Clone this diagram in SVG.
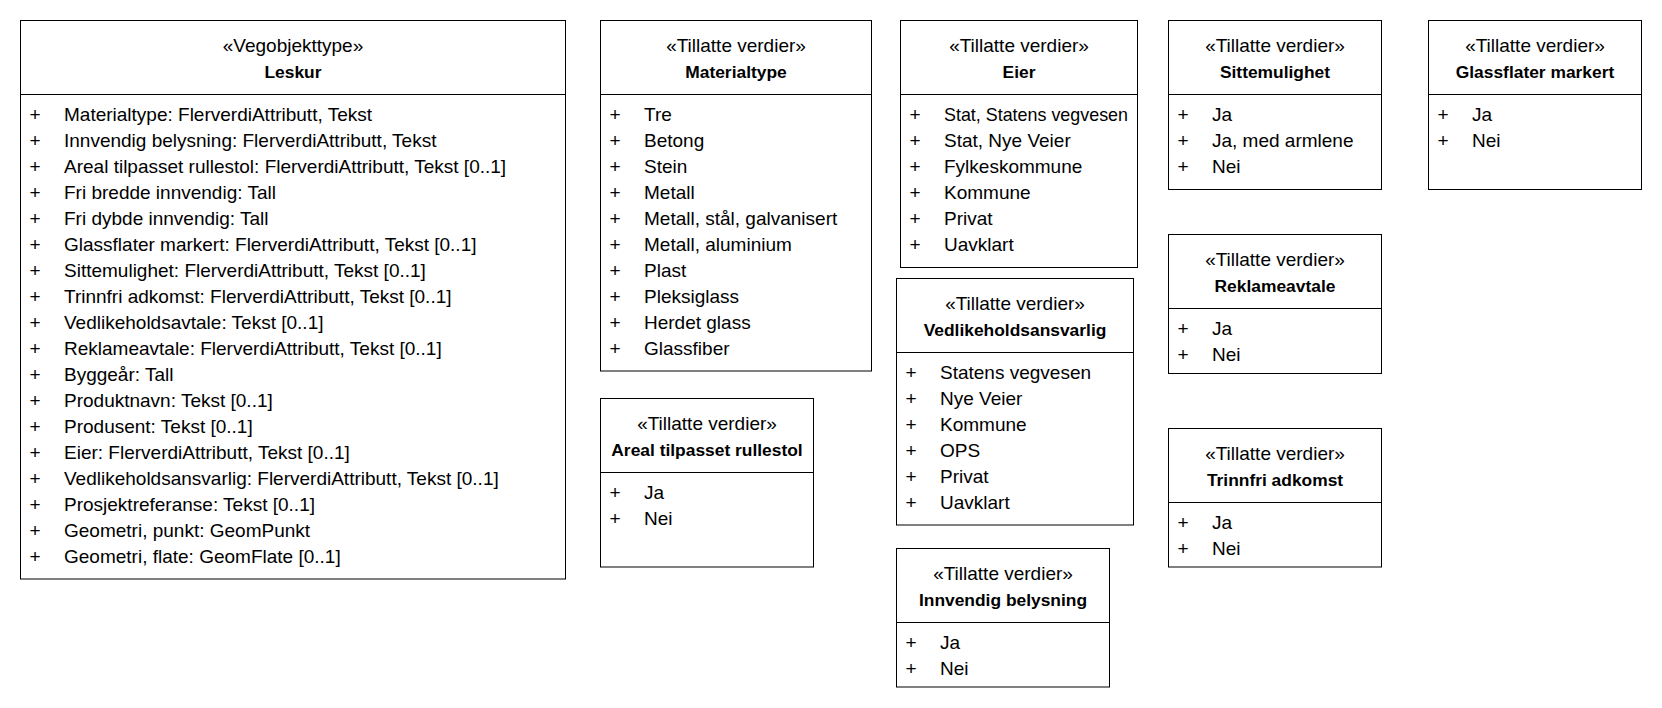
<svg xmlns="http://www.w3.org/2000/svg" width="1662" height="708" viewBox="0 0 1662 708">
<style>
.bg{fill:#fff}
.box{fill:#fff;stroke:#000;stroke-width:1}
.sep{stroke:#000;stroke-width:1}
text{font-family:"Liberation Sans",Arial,sans-serif;fill:#000}
.st{font-size:19px;text-anchor:middle}
.nm{font-size:17.4px;font-weight:bold;text-anchor:middle}
.r{font-size:19px}
</style>
<rect class="bg" x="0" y="0" width="1662" height="708"/>
<g id="connectors"/>

<g id="leskur">
<rect class="box" x="20.5" y="20.5" width="545" height="558.5"/>
<line class="sep" x1="20.5" y1="94.5" x2="565.5" y2="94.5"/>
<text class="st" x="293" y="52">«Vegobjekttype»</text>
<text class="nm" x="293" y="77.5">Leskur</text>
<text class="r"><tspan x="29.5" y="120.8">+</tspan><tspan x="29.5" y="146.8">+</tspan><tspan x="29.5" y="172.8">+</tspan><tspan x="29.5" y="198.8">+</tspan><tspan x="29.5" y="224.8">+</tspan><tspan x="29.5" y="250.8">+</tspan><tspan x="29.5" y="276.8">+</tspan><tspan x="29.5" y="302.8">+</tspan><tspan x="29.5" y="328.8">+</tspan><tspan x="29.5" y="354.8">+</tspan><tspan x="29.5" y="380.8">+</tspan><tspan x="29.5" y="406.8">+</tspan><tspan x="29.5" y="432.8">+</tspan><tspan x="29.5" y="458.8">+</tspan><tspan x="29.5" y="484.8">+</tspan><tspan x="29.5" y="510.8">+</tspan><tspan x="29.5" y="536.8">+</tspan><tspan x="29.5" y="562.8">+</tspan></text>
<text class="r"><tspan x="64" y="120.8">Materialtype: FlerverdiAttributt, Tekst</tspan><tspan x="64" y="146.8">Innvendig belysning: FlerverdiAttributt, Tekst</tspan><tspan x="64" y="172.8">Areal tilpasset rullestol: FlerverdiAttributt, Tekst [0..1]</tspan><tspan x="64" y="198.8">Fri bredde innvendig: Tall</tspan><tspan x="64" y="224.8">Fri dybde innvendig: Tall</tspan><tspan x="64" y="250.8">Glassflater markert: FlerverdiAttributt, Tekst [0..1]</tspan><tspan x="64" y="276.8">Sittemulighet: FlerverdiAttributt, Tekst [0..1]</tspan><tspan x="64" y="302.8">Trinnfri adkomst: FlerverdiAttributt, Tekst [0..1]</tspan><tspan x="64" y="328.8">Vedlikeholdsavtale: Tekst [0..1]</tspan><tspan x="64" y="354.8">Reklameavtale: FlerverdiAttributt, Tekst [0..1]</tspan><tspan x="64" y="380.8">Byggeår: Tall</tspan><tspan x="64" y="406.8">Produktnavn: Tekst [0..1]</tspan><tspan x="64" y="432.8">Produsent: Tekst [0..1]</tspan><tspan x="64" y="458.8">Eier: FlerverdiAttributt, Tekst [0..1]</tspan><tspan x="64" y="484.8">Vedlikeholdsansvarlig: FlerverdiAttributt, Tekst [0..1]</tspan><tspan x="64" y="510.8">Prosjektreferanse: Tekst [0..1]</tspan><tspan x="64" y="536.8">Geometri, punkt: GeomPunkt</tspan><tspan x="64" y="562.8">Geometri, flate: GeomFlate [0..1]</tspan></text>
</g>

<g id="materialtype">
<rect class="box" x="600.5" y="20.5" width="271" height="350.5"/>
<line class="sep" x1="600.5" y1="94.5" x2="871.5" y2="94.5"/>
<text class="st" x="736" y="52">«Tillatte verdier»</text>
<text class="nm" x="736" y="77.5">Materialtype</text>
<text class="r"><tspan x="609.5" y="120.8">+</tspan><tspan x="609.5" y="146.8">+</tspan><tspan x="609.5" y="172.8">+</tspan><tspan x="609.5" y="198.8">+</tspan><tspan x="609.5" y="224.8">+</tspan><tspan x="609.5" y="250.8">+</tspan><tspan x="609.5" y="276.8">+</tspan><tspan x="609.5" y="302.8">+</tspan><tspan x="609.5" y="328.8">+</tspan><tspan x="609.5" y="354.8">+</tspan></text>
<text class="r"><tspan x="644" y="120.8">Tre</tspan><tspan x="644" y="146.8">Betong</tspan><tspan x="644" y="172.8">Stein</tspan><tspan x="644" y="198.8">Metall</tspan><tspan x="644" y="224.8">Metall, stål, galvanisert</tspan><tspan x="644" y="250.8">Metall, aluminium</tspan><tspan x="644" y="276.8">Plast</tspan><tspan x="644" y="302.8">Pleksiglass</tspan><tspan x="644" y="328.8">Herdet glass</tspan><tspan x="644" y="354.8">Glassfiber</tspan></text>
</g>

<g id="eier">
<rect class="box" x="900.5" y="20.5" width="237" height="247"/>
<line class="sep" x1="900.5" y1="94.5" x2="1137.5" y2="94.5"/>
<text class="st" x="1019" y="52">«Tillatte verdier»</text>
<text class="nm" x="1019" y="77.5">Eier</text>
<text class="r"><tspan x="909.5" y="120.8">+</tspan><tspan x="909.5" y="146.8">+</tspan><tspan x="909.5" y="172.8">+</tspan><tspan x="909.5" y="198.8">+</tspan><tspan x="909.5" y="224.8">+</tspan><tspan x="909.5" y="250.8">+</tspan></text>
<text class="r" x="944" y="120.8" textLength="184" lengthAdjust="spacingAndGlyphs">Stat, Statens vegvesen</text>
<text class="r"><tspan x="944" y="146.8">Stat, Nye Veier</tspan><tspan x="944" y="172.8">Fylkeskommune</tspan><tspan x="944" y="198.8">Kommune</tspan><tspan x="944" y="224.8">Privat</tspan><tspan x="944" y="250.8">Uavklart</tspan></text>
</g>

<g id="sittemulighet">
<rect class="box" x="1168.5" y="20.5" width="213" height="169"/>
<line class="sep" x1="1168.5" y1="94.5" x2="1381.5" y2="94.5"/>
<text class="st" x="1275" y="52">«Tillatte verdier»</text>
<text class="nm" x="1275" y="77.5">Sittemulighet</text>
<text class="r"><tspan x="1177.5" y="120.8">+</tspan><tspan x="1177.5" y="146.8">+</tspan><tspan x="1177.5" y="172.8">+</tspan></text>
<text class="r"><tspan x="1212" y="120.8">Ja</tspan><tspan x="1212" y="146.8">Ja, med armlene</tspan><tspan x="1212" y="172.8">Nei</tspan></text>
</g>

<g id="glassflater-markert">
<rect class="box" x="1428.5" y="20.5" width="213" height="169"/>
<line class="sep" x1="1428.5" y1="94.5" x2="1641.5" y2="94.5"/>
<text class="st" x="1535" y="52">«Tillatte verdier»</text>
<text class="nm" x="1535" y="77.5">Glassflater markert</text>
<text class="r"><tspan x="1437.5" y="120.8">+</tspan><tspan x="1437.5" y="146.8">+</tspan></text>
<text class="r"><tspan x="1472" y="120.8">Ja</tspan><tspan x="1472" y="146.8">Nei</tspan></text>
</g>

<g id="vedlikeholdsansvarlig">
<rect class="box" x="896.5" y="278.5" width="237" height="246.5"/>
<line class="sep" x1="896.5" y1="352.5" x2="1133.5" y2="352.5"/>
<text class="st" x="1015" y="310">«Tillatte verdier»</text>
<text class="nm" x="1015" y="335.5">Vedlikeholdsansvarlig</text>
<text class="r"><tspan x="905.5" y="378.8">+</tspan><tspan x="905.5" y="404.8">+</tspan><tspan x="905.5" y="430.8">+</tspan><tspan x="905.5" y="456.8">+</tspan><tspan x="905.5" y="482.8">+</tspan><tspan x="905.5" y="508.8">+</tspan></text>
<text class="r"><tspan x="940" y="378.8">Statens vegvesen</tspan><tspan x="940" y="404.8">Nye Veier</tspan><tspan x="940" y="430.8">Kommune</tspan><tspan x="940" y="456.8">OPS</tspan><tspan x="940" y="482.8">Privat</tspan><tspan x="940" y="508.8">Uavklart</tspan></text>
</g>

<g id="innvendig-belysning">
<rect class="box" x="896.5" y="548.5" width="213" height="138.5"/>
<line class="sep" x1="896.5" y1="622.5" x2="1109.5" y2="622.5"/>
<text class="st" x="1003" y="580">«Tillatte verdier»</text>
<text class="nm" x="1003" y="605.5">Innvendig belysning</text>
<text class="r"><tspan x="905.5" y="648.8">+</tspan><tspan x="905.5" y="674.8">+</tspan></text>
<text class="r"><tspan x="940" y="648.8">Ja</tspan><tspan x="940" y="674.8">Nei</tspan></text>
</g>

<g id="areal-tilpasset-rullestol">
<rect class="box" x="600.5" y="398.5" width="213" height="168.5"/>
<line class="sep" x1="600.5" y1="472.5" x2="813.5" y2="472.5"/>
<text class="st" x="707" y="430">«Tillatte verdier»</text>
<text class="nm" x="707" y="455.5">Areal tilpasset rullestol</text>
<text class="r"><tspan x="609.5" y="498.8">+</tspan><tspan x="609.5" y="524.8">+</tspan></text>
<text class="r"><tspan x="644" y="498.8">Ja</tspan><tspan x="644" y="524.8">Nei</tspan></text>
</g>

<g id="reklameavtale">
<rect class="box" x="1168.5" y="234.5" width="213" height="139"/>
<line class="sep" x1="1168.5" y1="308.5" x2="1381.5" y2="308.5"/>
<text class="st" x="1275" y="266">«Tillatte verdier»</text>
<text class="nm" x="1275" y="291.5">Reklameavtale</text>
<text class="r"><tspan x="1177.5" y="334.8">+</tspan><tspan x="1177.5" y="360.8">+</tspan></text>
<text class="r"><tspan x="1212" y="334.8">Ja</tspan><tspan x="1212" y="360.8">Nei</tspan></text>
</g>

<g id="trinnfri-adkomst">
<rect class="box" x="1168.5" y="428.5" width="213" height="138.5"/>
<line class="sep" x1="1168.5" y1="502.5" x2="1381.5" y2="502.5"/>
<text class="st" x="1275" y="460">«Tillatte verdier»</text>
<text class="nm" x="1275" y="485.5">Trinnfri adkomst</text>
<text class="r"><tspan x="1177.5" y="528.8">+</tspan><tspan x="1177.5" y="554.8">+</tspan></text>
<text class="r"><tspan x="1212" y="528.8">Ja</tspan><tspan x="1212" y="554.8">Nei</tspan></text>
</g>
</svg>
